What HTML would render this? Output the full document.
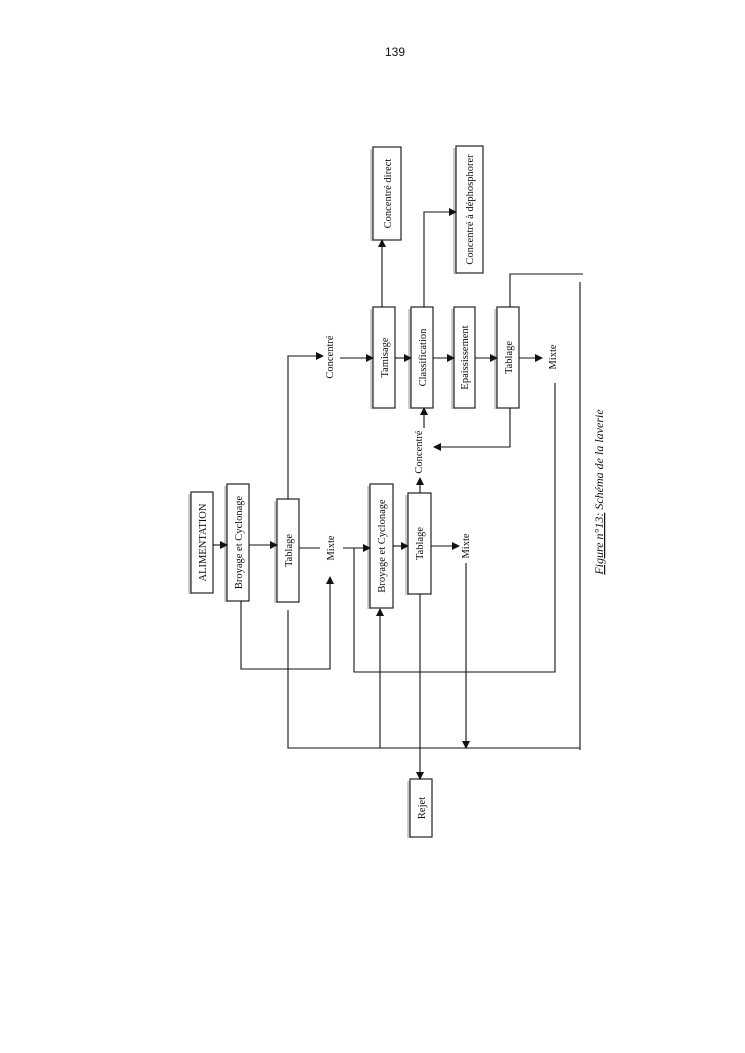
<!DOCTYPE html>
<html><head><meta charset="utf-8"><style>
html,body{margin:0;padding:0;background:#fff;}
svg{display:block;}
text{font-family:"Liberation Serif",serif;font-size:10.5px;fill:#111;}
</style></head><body>
<svg width="745" height="1053" viewBox="0 0 745 1053" xmlns="http://www.w3.org/2000/svg">
<defs><marker id="a" markerWidth="8" markerHeight="8" refX="7" refY="4" orient="auto" markerUnits="userSpaceOnUse"><path d="M0,0 L8,4 L0,8 z" fill="#111"/></marker></defs>
<text x="395" y="56" text-anchor="middle" style="font-family:'Liberation Sans',sans-serif;font-size:12px">139</text>
<g fill="#fff" stroke="#222" stroke-width="1.2">
<g fill="#ccc" stroke="none">
<rect x="188" y="494" width="4" height="100"/><rect x="224" y="486" width="4" height="116"/>
<rect x="274" y="501" width="4" height="102"/><rect x="367" y="486" width="4" height="123"/>
<rect x="405" y="495" width="4" height="100"/><rect x="370" y="149" width="4" height="92"/>
<rect x="453" y="148" width="4" height="126"/><rect x="370" y="309" width="4" height="100"/>
<rect x="408" y="309" width="4" height="100"/><rect x="451" y="309" width="4" height="100"/>
<rect x="494" y="309" width="4" height="100"/><rect x="407" y="781" width="4" height="57"/>
</g>
<rect x="191" y="492" width="22" height="101"/>
<rect x="227" y="484" width="22" height="117"/>
<rect x="277" y="499" width="22" height="103"/>
<rect x="370" y="484" width="23" height="124"/>
<rect x="408" y="493" width="23" height="101"/>
<rect x="373" y="147" width="28" height="93"/>
<rect x="456" y="146" width="27" height="127"/>
<rect x="373" y="307" width="22" height="101"/>
<rect x="411" y="307" width="22" height="101"/>
<rect x="454" y="307" width="21" height="101"/>
<rect x="497" y="307" width="22" height="101"/>
<rect x="410" y="779" width="22" height="58"/>
</g>
<g>
<text transform="translate(206,542.5) rotate(-90)" text-anchor="middle">ALIMENTATION</text>
<text transform="translate(242,542.5) rotate(-90)" text-anchor="middle">Broyage et Cyclonage</text>
<text transform="translate(292,550.5) rotate(-90)" text-anchor="middle">Tablage</text>
<text transform="translate(385,546) rotate(-90)" text-anchor="middle">Broyage et Cyclonage</text>
<text transform="translate(423,543.5) rotate(-90)" text-anchor="middle">Tablage</text>
<text transform="translate(391,193.5) rotate(-90)" text-anchor="middle">Concentré direct</text>
<text transform="translate(473,209.5) rotate(-90)" text-anchor="middle">Concentré à déphosphorer</text>
<text transform="translate(388,357.5) rotate(-90)" text-anchor="middle">Tamisage</text>
<text transform="translate(426,357.5) rotate(-90)" text-anchor="middle">Classification</text>
<text transform="translate(468,357.5) rotate(-90)" text-anchor="middle">Epaississement</text>
<text transform="translate(512,357.5) rotate(-90)" text-anchor="middle">Tablage</text>
<text transform="translate(425,808) rotate(-90)" text-anchor="middle">Rejet</text>
<text transform="translate(334,548) rotate(-90)" text-anchor="middle">Mixte</text>
<text transform="translate(469,546) rotate(-90)" text-anchor="middle">Mixte</text>
<text transform="translate(556,357) rotate(-90)" text-anchor="middle">Mixte</text>
<text transform="translate(333,357) rotate(-90)" text-anchor="middle">Concentré</text>
<text transform="translate(422,452) rotate(-90)" text-anchor="middle">Concentré</text>
<text transform="translate(603,492) rotate(-90)" text-anchor="middle" style="font-style:italic;font-size:12px"><tspan text-decoration="underline">Figure n°13:</tspan>  Schéma de la laverie</text>
</g>
<g stroke="#111" stroke-width="1.1" fill="none">
<line x1="213" y1="545" x2="227" y2="545" marker-end="url(#a)"/>
<line x1="249" y1="545" x2="277" y2="545" marker-end="url(#a)"/>
<line x1="299" y1="548" x2="320" y2="548"/>
<line x1="343" y1="548" x2="370" y2="548" marker-end="url(#a)"/>
<line x1="393" y1="546" x2="408" y2="546" marker-end="url(#a)"/>
<line x1="431" y1="546" x2="459" y2="546" marker-end="url(#a)"/>
<polyline points="288,499 288,356 323,356" marker-end="url(#a)"/>
<line x1="340" y1="358" x2="373" y2="358" marker-end="url(#a)"/>
<line x1="395" y1="358" x2="411" y2="358" marker-end="url(#a)"/>
<line x1="433" y1="358" x2="454" y2="358" marker-end="url(#a)"/>
<line x1="475" y1="358" x2="497" y2="358" marker-end="url(#a)"/>
<line x1="519" y1="358" x2="542" y2="358" marker-end="url(#a)"/>
<line x1="382" y1="307" x2="382" y2="240" marker-end="url(#a)"/>
<polyline points="424,307 424,212 456,212" marker-end="url(#a)"/>
<polyline points="510,307 510,274 583,274"/>
<line x1="580" y1="282" x2="580" y2="750"/>
<polyline points="510,408 510,447 434,447" marker-end="url(#a)"/>
<line x1="420" y1="493" x2="420" y2="478" marker-end="url(#a)"/>
<line x1="424" y1="428" x2="424" y2="408" marker-end="url(#a)"/>
<line x1="420" y1="594" x2="420" y2="779" marker-end="url(#a)"/>
<polyline points="241,601 241,669 330,669 330,577" marker-end="url(#a)"/>
<polyline points="288,610 288,748 580,748"/>
<line x1="380" y1="748" x2="380" y2="609" marker-end="url(#a)"/>
<line x1="466" y1="563" x2="466" y2="748" marker-end="url(#a)"/>
<polyline points="354,548 354,672 555,672 555,383"/>
</g>
</svg>
</body></html>
